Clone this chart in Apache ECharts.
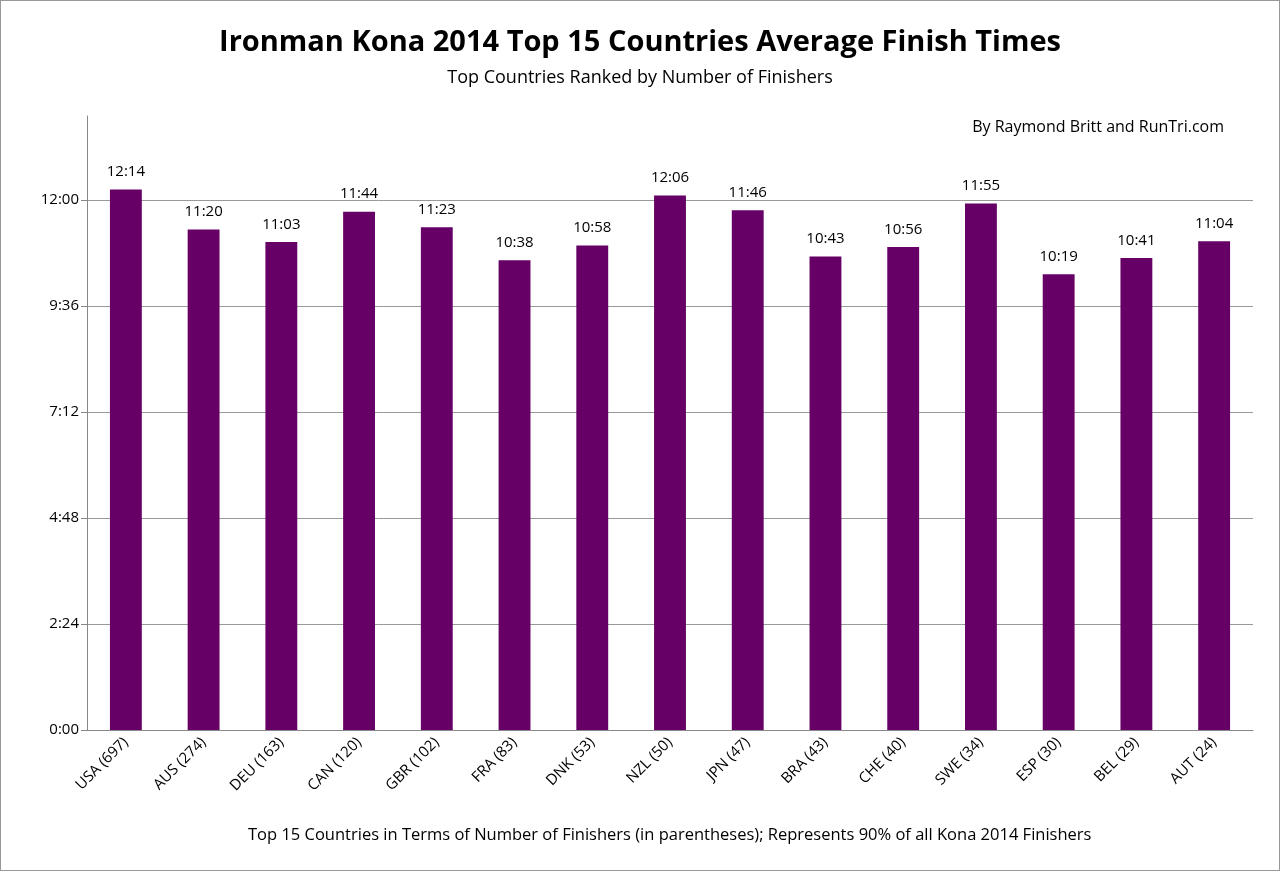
<!DOCTYPE html>
<html><head><meta charset="utf-8">
<script src="https://cdn.jsdelivr.net/npm/echarts@6/dist/echarts.min.js"></script>
<style>html,body{margin:0;padding:0;background:#fff}#c{width:1280px;height:871px;box-sizing:border-box;border:1px solid #999}</style>
</head><body><div id="c"></div>
<script>
const categories=['USA (697)','AUS (274)','DEU (163)','CAN (120)','GBR (102)','FRA (83)','DNK (53)','NZL (50)','JPN (47)','BRA (43)','CHE (40)','SWE (34)','ESP (30)','BEL (29)','AUT (24)'];
const finishTimes=['12:14','11:20','11:03','11:44','11:23','10:38','10:58','12:06','11:46','10:43','10:56','11:55','10:19','10:41','11:04'];
const toMin=s=>{const p=s.split(':');return +p[0]*60+ +p[1];};
const fmt=m=>Math.floor(m/60)+':'+String(m%60).padStart(2,'0');
const F='"Open Sans", "DejaVu Sans", sans-serif';
const chart=echarts.init(document.getElementById('c'));
chart.setOption({
  animation:false,
  textStyle:{fontFamily:F},
  title:[
    {text:'Ironman Kona 2014 Top 15 Countries Average Finish Times',left:'center',top:22,textStyle:{fontSize:29,fontWeight:'bold',color:'#000',fontFamily:F}},
    {text:'Top Countries Ranked by Number of Finishers',left:'center',top:63,textStyle:{fontSize:18,fontWeight:'normal',color:'#000',fontFamily:F}},
    {text:'By Raymond Britt and RunTri.com',right:50,top:113,textStyle:{fontSize:16,fontWeight:'normal',color:'#000',fontFamily:F}},
    {text:'Top 15 Countries in Terms of Number of Finishers (in parentheses); Represents 90% of all Kona 2014 Finishers',left:242,top:821,textStyle:{fontSize:16.5,fontWeight:'normal',color:'#000',fontFamily:F}}
  ],
  grid:{left:86,right:26,top:115,bottom:140},
  xAxis:{type:'category',data:categories,axisTick:{show:false},axisLine:{lineStyle:{color:'#888'}},
    axisLabel:{rotate:45,fontSize:15,color:'#000',margin:10,interval:0}},
  yAxis:{type:'value',min:0,max:834,interval:144,axisLine:{show:true,lineStyle:{color:'#888'}},
    axisTick:{show:true,length:6,lineStyle:{color:'#888'}},
    splitLine:{showMaxLine:false,lineStyle:{color:'#999'}},
    axisLabel:{fontSize:15,color:'#000',showMaxLabel:false,formatter:v=>v%144===0?fmt(v):''}},
  series:[{type:'bar',data:finishTimes.map(toMin),barWidth:'41%',itemStyle:{color:'#660066'},
    label:{show:true,position:'top',fontSize:15,color:'#000',distance:10,formatter:p=>finishTimes[p.dataIndex]}}]
});
</script></body></html>
